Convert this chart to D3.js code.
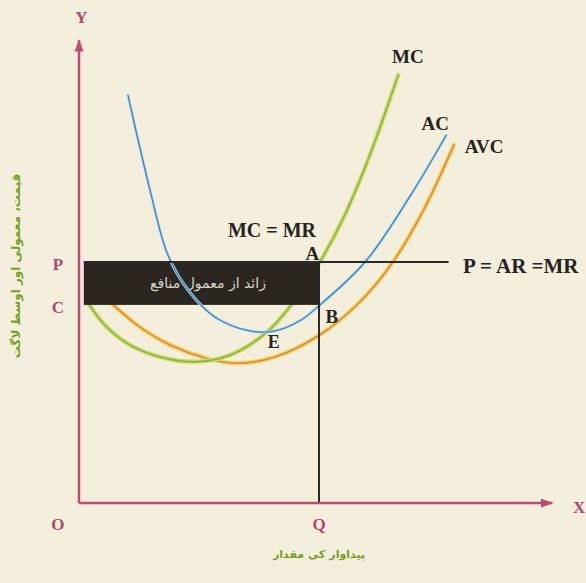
<!DOCTYPE html>
<html>
<head>
<meta charset="utf-8">
<script src="https://cdn.jsdelivr.net/npm/d3@7"></script>
<style>
  html, body { margin: 0; padding: 0; background: #f4efdd; }
  svg { display: block; }
</style>
</head>
<body>
<svg id="chart" width="586" height="583"></svg>
<script>
// Output (quantity) and cost coordinates of each cost curve
const mcQty   = [1.9, 5.4, 10.6, 16.9, 24.2, 31.5, 39.2, 45.0, 50.2, 55.4, 60.6, 66.5];
const mcCost  = [41.5, 36.9, 32.8, 30.3, 29.3, 30.7, 35.5, 42.1, 50.0, 59.8, 72.2, 88.8];

const acQty   = [10.2, 14.8, 18.5, 22.7, 28.3, 35.6, 40.8, 46.0, 50.2, 59.6, 69.0, 76.5];
const acCost  = [84.6, 64.9, 51.5, 44.2, 38.6, 35.7, 35.7, 37.8, 41.1, 50.0, 63.7, 76.3];

const avcQty  = [7.1, 12.7, 19.0, 26.3, 32.9, 40.8, 50.2, 58.5, 65.4, 72.1, 78.1];
const avcCost = [41.1, 36.5, 32.8, 30.1, 29.0, 30.3, 34.9, 41.7, 50.0, 61.4, 74.3];

// Equilibrium levels
const priceLevel = 50;      // P = AR = MR
const costLevel = 41.1;     // C (average cost at Q)
const outputLevel = 50;     // Q
const priceLineEnd = 77;
const profitStart = 1;
const axisMaxQty = 98.6;
const axisMaxCost = 96;

const svg = d3.select("#chart");
const x = d3.scaleLinear().domain([0, 100]).range([79, 559]);
const y = d3.scaleLinear().domain([0, 100]).range([503, 21]);

const axisColor = "#c04a70";
const serif = "'Liberation Serif', 'Times New Roman', serif";
const urdu = "'DejaVu Sans', sans-serif";

const zip = (a, b) => a.map((v, i) => [v, b[i]]);
const line = d3.line().x(d => x(d[0])).y(d => y(d[1])).curve(d3.curveCatmullRom.alpha(0.5));

// arrow markers for the axes
const defs = svg.append("defs");
defs.append("marker").attr("id", "arrow").attr("viewBox", "0 0 10 10")
  .attr("refX", 9).attr("refY", 5).attr("markerWidth", 5).attr("markerHeight", 5)
  .attr("orient", "auto")
  .append("path").attr("d", "M0,1.5 L10,5 L0,8.5 Z").attr("fill", axisColor);

// marginal cost and average variable cost (under the profit box)
function drawCurve(pts, halo, core, hw, cw) {
  svg.append("path").attr("d", line(pts)).attr("fill", "none")
    .attr("stroke", halo).attr("stroke-width", hw).attr("stroke-linecap", "round");
  svg.append("path").attr("d", line(pts)).attr("fill", "none")
    .attr("stroke", core).attr("stroke-width", cw).attr("stroke-linecap", "round");
}
drawCurve(zip(avcQty, avcCost), "#f1d36a", "#e08a3c", 4.5, 1.6);
drawCurve(zip(mcQty, mcCost), "#cbdc6c", "#8caf3e", 4.5, 1.4);

// supernormal profit box
svg.append("rect")
  .attr("x", x(profitStart)).attr("y", y(priceLevel))
  .attr("width", x(outputLevel) - x(profitStart))
  .attr("height", y(costLevel) - y(priceLevel))
  .attr("fill", "#2b261f");

svg.append("text")
  .attr("x", 208)
  .attr("y", (y(priceLevel) + y(costLevel)) / 2 + 5)
  .attr("text-anchor", "middle").attr("direction", "rtl")
  .attr("font-family", urdu).attr("font-size", 14).attr("fill", "#d8d4cc")
  .text("زائد از معمول منافع");

// average cost
drawCurve(zip(acQty, acCost), "#b4dcf0", "#3d80b8", 3, 1.3);

// price line and output line
svg.append("line")
  .attr("x1", x(profitStart)).attr("x2", x(priceLineEnd))
  .attr("y1", y(priceLevel)).attr("y2", y(priceLevel))
  .attr("stroke", "#2a2a2a").attr("stroke-width", 2);
svg.append("line")
  .attr("x1", x(outputLevel)).attr("x2", x(outputLevel))
  .attr("y1", y(priceLevel)).attr("y2", y(0))
  .attr("stroke", "#2a2a2a").attr("stroke-width", 2);

// axes
svg.append("line").attr("x1", x(0)).attr("y1", y(0)).attr("x2", x(0)).attr("y2", y(axisMaxCost))
  .attr("stroke", axisColor).attr("stroke-width", 2.5).attr("marker-end", "url(#arrow)");
svg.append("line").attr("x1", x(0)).attr("y1", y(0)).attr("x2", x(axisMaxQty)).attr("y2", y(0))
  .attr("stroke", axisColor).attr("stroke-width", 2.5).attr("marker-end", "url(#arrow)");

// axis letters
const axisLabels = [
  { t: "Y", px: 0, py: 100, dx: 2.5, dy: 2 },
  { t: "X", px: 104.2, py: 0, dx: 0, dy: 10 },
  { t: "O", px: -4.4, py: 0, dx: 0, dy: 27 },
  { t: "Q", px: outputLevel, py: 0, dx: 0, dy: 27 },
  { t: "P", px: -4.4, py: priceLevel, dx: 0, dy: 8 },
  { t: "C", px: -4.4, py: costLevel, dx: 0, dy: 8 }
];
svg.selectAll("text.axl").data(axisLabels).join("text").attr("class", "axl")
  .attr("x", d => x(d.px) + d.dx).attr("y", d => y(d.py) + d.dy)
  .attr("text-anchor", "middle")
  .attr("font-family", serif).attr("font-weight", "bold").attr("font-size", 17)
  .attr("fill", "#b24672").text(d => d.t);

// curve and point labels
const marks = [
  { t: "MC", px: 68.5, py: 91.3, size: 19, anchor: "middle" },
  { t: "AC", px: 74.2, py: 77.4, size: 19, anchor: "middle" },
  { t: "AVC", px: 84.4, py: 72.6, size: 19, anchor: "middle" },
  { t: "MC = MR", px: 40.2, py: 55.2, size: 20, anchor: "middle" },
  { t: "A", px: 48.6, py: 50.4, size: 19, anchor: "middle" },
  { t: "B", px: 52.7, py: 37.3, size: 19, anchor: "middle" },
  { t: "E", px: 40.6, py: 32.2, size: 18, anchor: "middle" },
  { t: "P = AR =MR", px: 80, py: 47.7, size: 21, anchor: "start" }
];
svg.selectAll("text.mk").data(marks).join("text").attr("class", "mk")
  .attr("x", d => x(d.px)).attr("y", d => y(d.py))
  .attr("text-anchor", d => d.anchor)
  .attr("font-family", serif).attr("font-weight", "bold").attr("font-size", d => d.size)
  .attr("fill", "#262320").text(d => d.t);

// axis titles in Urdu
svg.append("text")
  .attr("x", x(outputLevel)).attr("y", 558)
  .attr("text-anchor", "middle").attr("direction", "rtl")
  .attr("font-family", urdu).attr("font-size", 11).attr("font-weight", "bold")
  .attr("fill", "#74a01e").text("پیداوار کی مقدار");

svg.append("text")
  .attr("transform", "translate(20,266) rotate(-90)")
  .attr("text-anchor", "middle").attr("direction", "rtl")
  .attr("font-family", urdu).attr("font-size", 12).attr("font-weight", "bold")
  .attr("fill", "#74a01e").text("قیمت، معمولی اور اوسط لاگت");
</script>
</body>
</html>
